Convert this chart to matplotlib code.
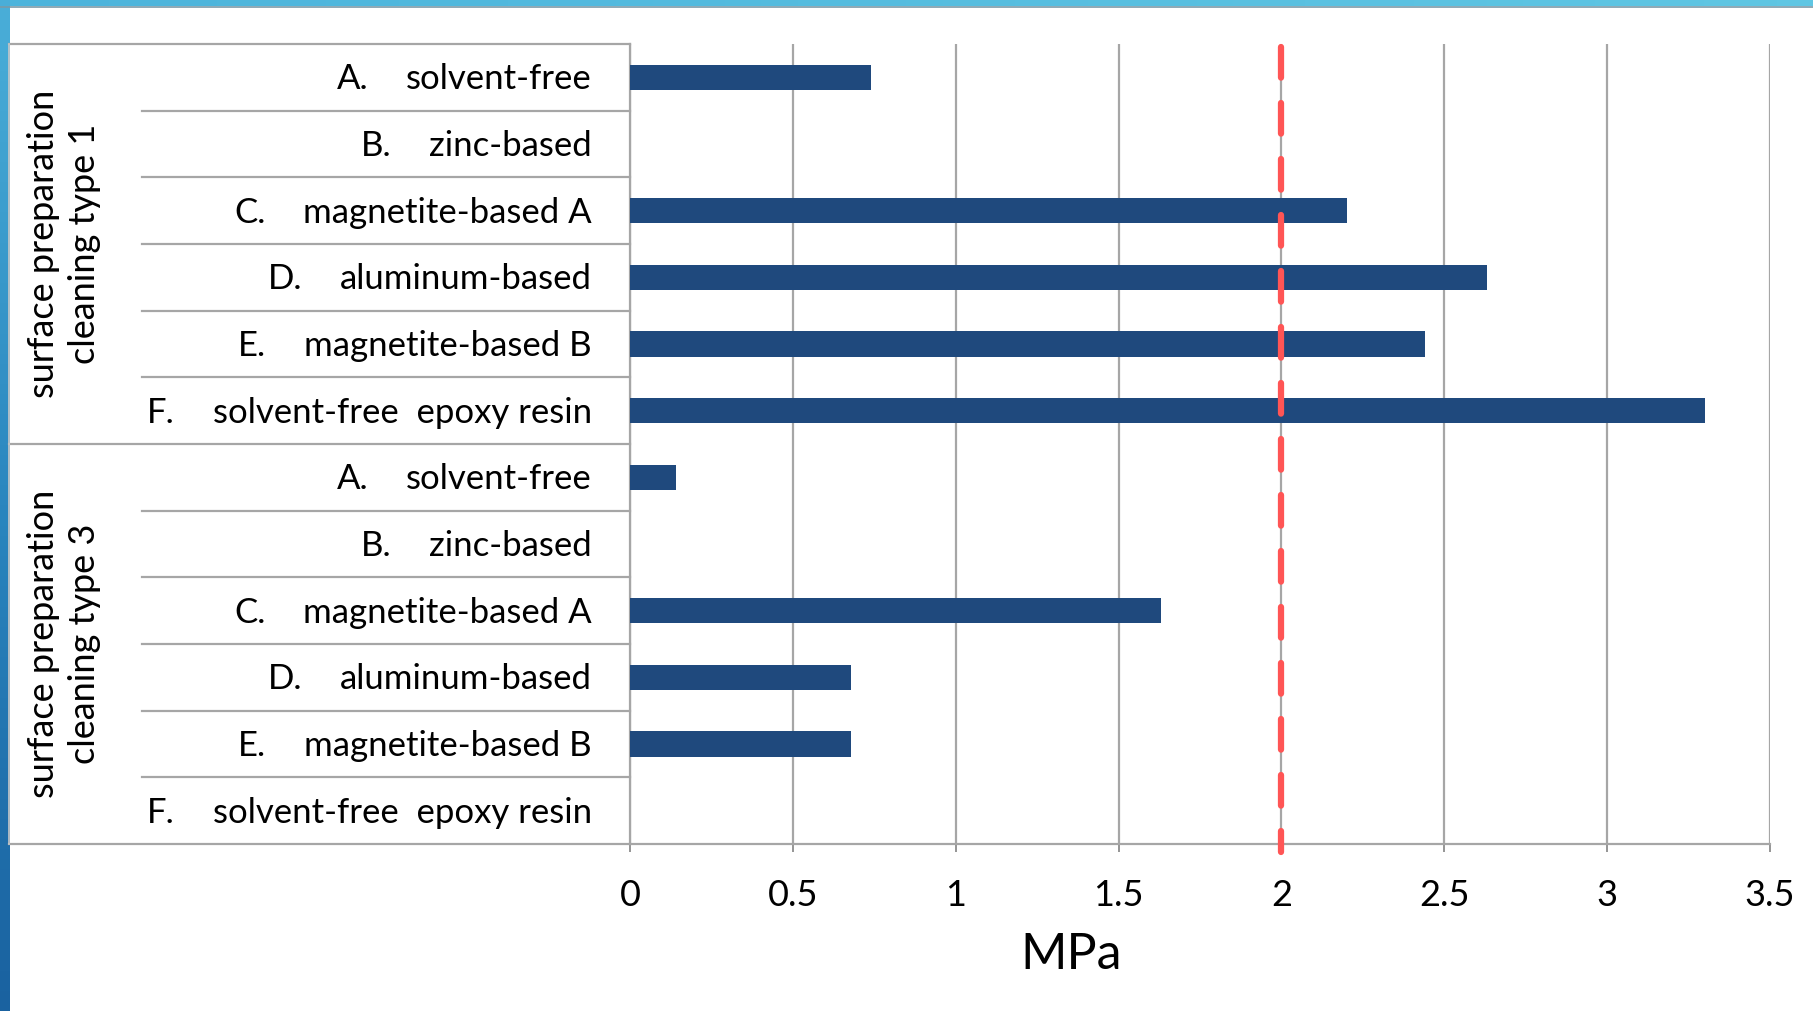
import numpy as np
import matplotlib.pyplot as plt

plt.rcParams['font.family'] = ['Lato', 'DejaVu Sans']

groups = ["surface preparation\ncleaning type 1", "surface preparation\ncleaning type 3"]
letters = ["A.", "B.", "C.", "D.", "E.", "F."]
coatings = ["solvent-free", "zinc-based", "magnetite-based A",
            "aluminum-based", "magnetite-based B", "solvent-free  epoxy resin"]
type1 = [0.74, 0, 2.20, 2.63, 2.44, 3.30]
type3 = [0.14, 0, 1.63, 0.68, 0.68, 0]
threshold = 2.0
xticks = [0, 0.5, 1, 1.5, 2, 2.5, 3, 3.5]
xticklabels = ["0", "0.5", "1", "1.5", "2", "2.5", "3", "3.5"]

W, H = 1813, 1011
fig = plt.figure(figsize=(W/100, H/100), dpi=100)
fig.patch.set_facecolor('white')

# slide frame (blue strips top and left)
top = fig.add_axes([0, 1-6/H, 1, 6/H])
top.imshow(np.linspace(0, 1, 50).reshape(1, -1), aspect='auto', cmap=plt.matplotlib.colors.LinearSegmentedColormap.from_list('t', ['#4cb4dc', '#5fc6e3']))
top.axis('off')
fig.add_artist(plt.Line2D([0, 1], [1-7/H, 1-7/H], color='#7a9aa8', lw=1.2))
left = fig.add_axes([0, 0, 10/W, 1])
left.imshow(np.linspace(0, 1, 100).reshape(-1, 1), aspect='auto', cmap=plt.matplotlib.colors.LinearSegmentedColormap.from_list('l', ['#4aaed8', '#2a86bf', '#1a62a0']))
left.axis('off')

x0, x1, y0, y1 = 630, 1770, 44, 844
ax = fig.add_axes([x0/W, 1-y1/H, (x1-x0)/W, (y1-y0)/H])

values = type1 + type3
ypos = np.arange(len(values))
ax.barh(ypos, values, height=0.38, color='#1f497d', zorder=3)
ax.set_xlim(0, 3.5)
ax.set_ylim(len(values)-0.5, -0.5)

ax.set_xticks(xticks)
ax.set_xticklabels(xticklabels, fontsize=26)
ax.set_yticks([])
ax.tick_params(axis='x', length=6, color='#8c8c8c', width=1.3, pad=19)
ax.grid(axis='x', color='#a6a6a6', lw=1.6, zorder=1)
for s in ['top', 'right']:
    ax.spines[s].set_visible(False)
ax.spines['left'].set_color('#a6a6a6')
ax.spines['left'].set_linewidth(1.6)
ax.spines['bottom'].set_color('#a6a6a6')
ax.spines['bottom'].set_linewidth(1.6)

ax.plot([threshold, threshold], [-0.45, len(values)-0.5+0.12], color='#ff5555', lw=4.5,
        dashes=(4.9, 4.06), solid_capstyle='round', dash_capstyle='round', zorder=4, clip_on=False)

# table lines on the left
tr = ax.get_yaxis_transform()
xa_out = (9-x0)/(x1-x0)
xa_in = (142-x0)/(x1-x0)
for k in range(len(values)+1):
    xs = xa_out if k % 6 == 0 else xa_in
    ax.plot([xs, 0], [k-0.5, k-0.5], color='#a6a6a6', lw=1.6, transform=tr, clip_on=False)
ax.plot([xa_out, xa_out], [-0.5, len(values)-0.5], color='#c8c8c8', lw=1.2, transform=tr, clip_on=False)

fig.canvas.draw()
r = fig.canvas.get_renderer()
xlab = (592-x0)/(x1-x0)
for i, v in enumerate(values):
    t = ax.text(xlab, i+0.03, coatings[i % 6], transform=tr, ha='right', va='center', fontsize=25)
    bb = t.get_window_extent(r)
    xl = ax.transAxes.inverted().transform((bb.x0-38, 0))[0]
    ax.text(xl, i+0.03, letters[i % 6], transform=tr, ha='right', va='center', fontsize=25)

for g, name in enumerate(groups):
    ax.text((64-x0)/(x1-x0), g*6+2.5, name, transform=tr, rotation=90, ha='center', va='center',
            fontsize=26, multialignment='center', linespacing=1.3)

fig.text(1071/W, 1-955/H, "MPa", ha='center', va='center', fontsize=36)

fig.savefig('out.png', dpi=100)
